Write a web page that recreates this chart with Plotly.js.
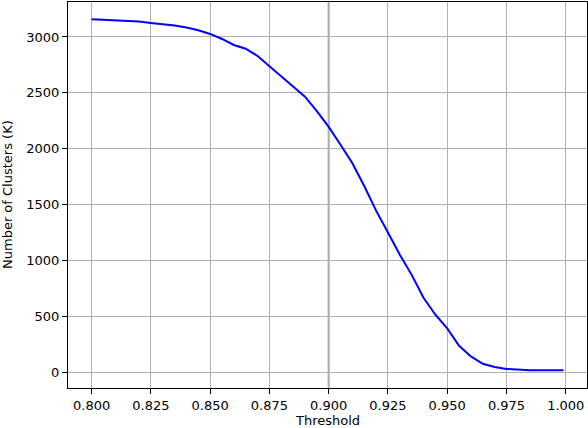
<!DOCTYPE html>
<html>
<head>
<meta charset="utf-8">
<script src="https://cdn.plot.ly/plotly-3.0.1.min.js"></script>
<style>
  html, body { margin: 0; padding: 0; background: #fff; }
  #chart { width: 588px; height: 428px; }
</style>
</head>
<body>
<div id="chart"></div>
<script>
// threshold vs number of clusters
const thresholds = [
  0.800, 0.805, 0.810, 0.815, 0.820, 0.825, 0.830, 0.835, 0.840, 0.845,
  0.850, 0.855, 0.860, 0.865, 0.870, 0.875, 0.880, 0.885, 0.890, 0.895,
  0.900, 0.905, 0.910, 0.915, 0.920, 0.925, 0.930, 0.935, 0.940, 0.945,
  0.950, 0.955, 0.960, 0.965, 0.970, 0.975, 0.980, 0.985, 0.990, 0.995, 0.999
];
const clusters = [
  3158, 3153, 3148, 3145, 3138, 3125, 3115, 3102, 3085, 3060,
  3027, 2982, 2928, 2895, 2830, 2740, 2650, 2562, 2465, 2335,
  2195, 2035, 1870, 1665, 1445, 1250, 1050, 870, 665, 513,
  390, 235, 140, 74, 45, 28, 20, 17, 16, 15, 15
];
const xTicks = [0.800, 0.825, 0.850, 0.875, 0.900, 0.925, 0.950, 0.975, 1.000];
const yTicks = [0, 500, 1000, 1500, 2000, 2500, 3000];
const markLine = 0.9;
const xLabel = "Threshold";
const yLabel = "Number of Clusters (K)";

const trace = {
  x: thresholds,
  y: clusters,
  mode: "lines",
  type: "scatter",
  line: { color: "#0000ff", width: 2 },
  hoverinfo: "skip",
};

const axisBase = {
  showgrid: true,
  gridcolor: "#b0b0b0",
  gridwidth: 1,
  zeroline: false,
  showline: true,
  linecolor: "#000000",
  linewidth: 1,
  mirror: true,
  ticks: "outside",
  ticklen: 5,
  tickwidth: 1,
  tickcolor: "#000000",
  tickfont: { size: 13, color: "#000000" },
  automargin: false,
};

const layout = {
  width: 588,
  height: 428,
  paper_bgcolor: "#ffffff",
  plot_bgcolor: "#ffffff",
  showlegend: false,
  font: { family: "DejaVu Sans", size: 13, color: "#000000" },
  margin: { l: 68, r: 1, t: 2, b: 40 },
  xaxis: Object.assign({}, axisBase, {
    range: [0.79005, 1.00895],
    tickmode: "array",
    tickvals: xTicks,
    tickformat: ".3f",
    title: { text: "" },
  }),
  yaxis: Object.assign({}, axisBase, {
    range: [-143, 3313],
    tickmode: "array",
    tickvals: yTicks,
    title: { text: "" },
  }),
  // axis titles as annotations so they sit where matplotlib put them
  annotations: [
    {
      text: xLabel, xref: "paper", yref: "paper",
      x: 0.5, y: 0, xanchor: "center", yanchor: "top",
      yshift: -23, showarrow: false, font: { size: 13 },
    },
    {
      text: yLabel, xref: "paper", yref: "paper",
      x: 0, y: 0.5, xanchor: "center", yanchor: "middle",
      xshift: -61, textangle: -90, showarrow: false, font: { size: 13 },
    },
  ],
  shapes: [{
    type: "line",
    xref: "x",
    yref: "paper",
    x0: markLine, x1: markLine,
    y0: 0, y1: 1,
    line: { color: "#a0a0a0", width: 2 },
    layer: "below",
  }],
};

Plotly.newPlot("chart", [trace], layout, { staticPlot: true, displayModeBar: false });
</script>
</body>
</html>
